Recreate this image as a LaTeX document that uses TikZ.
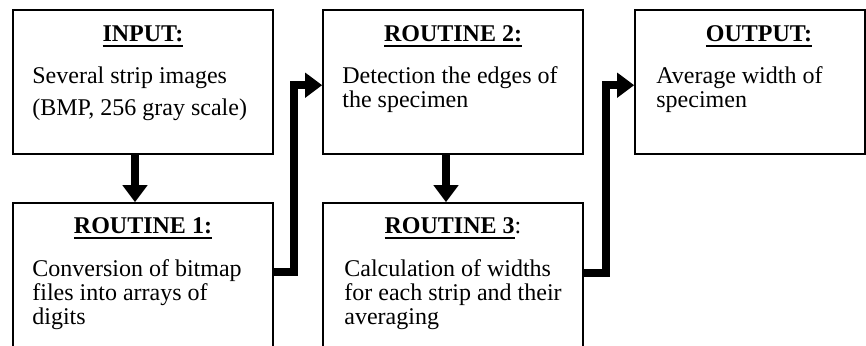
\documentclass[tikz,border=0pt]{standalone}
\usepackage{fontspec}
\setmainfont{Liberation Serif}
\usetikzlibrary{arrows.meta}
\newcommand{\uhead}[1]{\setbox0\hbox{\bfseries#1}\rlap{\rule[-6pt]{\wd0}{1.8pt}}\box0}
\tikzset{
	box/.style={draw, line width=1.6pt, minimum width=260pt, minimum height=144pt, inner sep=0pt},
	head/.style={anchor=base, inner sep=0pt},
	body/.style={anchor=base west, align=left, inner sep=0pt},
	flow/.style={line width=8pt, -{Triangle[width=24pt, length=17pt]}},
}
\begin{document}
\begin{tikzpicture}[x=1pt, y=-1pt, font=\fontsize{24}{24}\selectfont]
		\useasboundingbox (0, 0) rectangle (866, 345);
		\clip (0, 0) rectangle (866, 345);
		\node[box](inp) at (143, 82){};
		\node[box, minimum height=180pt](rout1) at (143, 293){};
		\node[box](rout2) at (453, 82){};
		\node[box, minimum height=180pt](rout3) at (453, 293){};
		\node[box, minimum width=230pt](outp) at (750, 82){};
		% headings
		\node[head](inph) at ([yshift=-32pt]inp.north){\uhead{INPUT:}};
		\node[head](rout1h) at ([yshift=-31pt]rout1.north){\uhead{ROUTINE 1:}};
		\node[head](rout2h) at ([yshift=-32pt]rout2.north){\uhead{ROUTINE 2:}};
		\node[head](rout3h) at ([yshift=-31pt]rout3.north){\uhead{ROUTINE 3}:};
		\node[head](outph) at ([xshift=9pt, yshift=-32pt]outp.north){\uhead{OUTPUT:}};
		% texts (base = last line)
		\node[body](inpt) at ([xshift=20pt, yshift=-106pt]inp.north west){Several strip images\\[8pt](BMP, 256 gray scale)};
		\node[body](rout1t) at ([xshift=20pt, yshift=-122pt]rout1.north west){Conversion of bitmap\\files into arrays of\\digits};
		\node[body](rout2t) at ([xshift=20pt, yshift=-98pt]rout2.north west){Detection the edges of\\the specimen};
		\node[body](rout3t) at ([xshift=22pt, yshift=-122pt]rout3.north west){Calculation of widths\\for each strip and their\\averaging};
		\node[body](outpt) at ([xshift=22pt, yshift=-98pt]outp.north west){Average width of\\specimen};
		\draw[flow]([xshift=-8pt]inp.south)--([xshift=-8pt]rout1.north);
		\draw[flow]([xshift=-7pt]rout2.south)--([xshift=-7pt]rout3.north);
		\draw[flow]([yshift=-70pt]rout1.north east)--++(20, 0)|-([yshift=-76pt]rout2.north west);
		\draw[flow]([yshift=-71pt]rout3.north east)--++(22, 0)|-([yshift=-76pt]outp.north west);
	\end{tikzpicture}
\end{document}
